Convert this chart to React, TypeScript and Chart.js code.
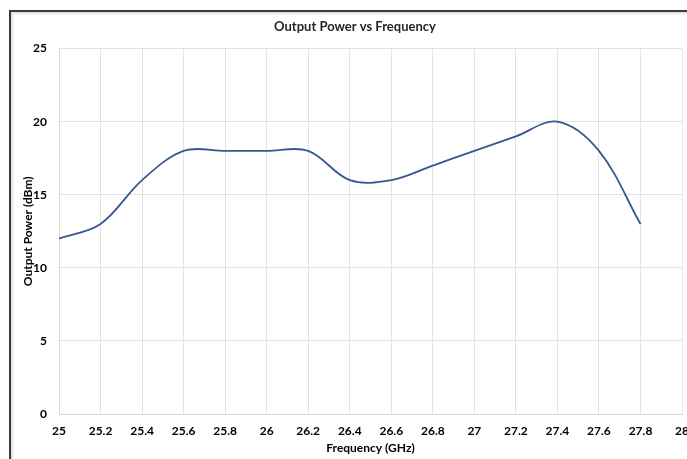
import React, { useEffect, useRef } from "react";
import { Chart, registerables } from "chart.js";

Chart.register(...registerables);

const frequencies = [25, 25.2, 25.4, 25.6, 25.8, 26, 26.2, 26.4, 26.6, 26.8, 27, 27.2, 27.4, 27.6, 27.8];
const outputPower = [12, 13, 16, 18, 18, 18, 18, 16, 16, 17, 18, 19, 20, 18, 13];
const xTicks = [25, 25.2, 25.4, 25.6, 25.8, 26, 26.2, 26.4, 26.6, 26.8, 27, 27.2, 27.4, 27.6, 27.8, 28];
const yTicks = [0, 5, 10, 15, 20, 25];

const FONT = "Lato, 'Open Sans', sans-serif";

export default function App() {
  const ref = useRef<HTMLCanvasElement | null>(null);
  useEffect(() => {
    if (!ref.current) return;
    const chart = new Chart(ref.current, {
      type: "scatter",
      data: {
        datasets: [
          {
            label: "Output Power",
            data: frequencies.map((f, i) => ({ x: f, y: outputPower[i] })),
            showLine: true,
            borderColor: "#35598f",
            backgroundColor: "#35598f",
            borderWidth: 1.8,
            pointRadius: 0,
            tension: 0.35,
          },
        ],
      },
      options: {
        animation: false,
        responsive: false,
        maintainAspectRatio: false,
        layout: { padding: { left: 0, right: 0, top: 5, bottom: 2 } },
        plugins: {
          legend: { display: false },
          tooltip: { enabled: false },
          title: {
            display: true,
            text: "Output Power vs Frequency",
            color: "#262626",
            font: { family: FONT, size: 13, weight: "bold" },
            padding: { top: 2, bottom: 14 },
          },
        },
        scales: {
          x: {
            type: "linear",
            min: 25,
            max: 28,
            afterBuildTicks: (scale: any) => {
              scale.ticks = xTicks.map((v) => ({ value: v }));
            },
            afterFit: (scale: any) => {
              scale.height = 41;
            },
            grid: { color: "#e3e3e3", drawTicks: false, lineWidth: 1 },
            border: { display: true, color: "#d9d9d9" },
            ticks: {
              color: "#000",
              padding: 10,
              maxRotation: 0,
              autoSkip: false,
              font: { family: FONT, size: 12, weight: "bold" },
              callback: (v: any) => String(Number(Number(v).toFixed(1))),
            },
            title: {
              display: true,
              text: "Frequency (GHz)",
              color: "#000",
              font: { family: FONT, size: 12, weight: "bold" },
              padding: { top: 0, bottom: 0 },
            },
          },
          y: {
            type: "linear",
            min: 0,
            max: 25,
            afterBuildTicks: (scale: any) => {
              scale.ticks = yTicks.map((v) => ({ value: v }));
            },
            afterFit: (scale: any) => {
              scale.width = 48;
            },
            grid: { color: "#e3e3e3", drawTicks: false, lineWidth: 1 },
            border: { display: true, color: "#d9d9d9" },
            ticks: {
              color: "#000",
              padding: 12,
              font: { family: FONT, size: 12, weight: "bold" },
            },
            title: {
              display: true,
              text: "Output Power (dBm)",
              color: "#000",
              font: { family: FONT, size: 12, weight: "bold" },
              padding: { top: 10, bottom: 0 },
            },
          },
        },
      },
    });
    return () => chart.destroy();
  }, []);

  return (
    <div
      style={{
        position: "fixed",
        left: 0,
        top: 0,
        width: 687,
        height: 459,
        overflow: "hidden",
        background: "#fff",
      }}
    >
      <div
        style={{
          position: "absolute",
          left: 9,
          top: 10,
          width: 720,
          height: 480,
          borderLeft: "2px solid #3c3c3c",
          borderTop: "2px solid #3c3c3c",
          boxShadow: "inset 2px 2px 2px rgba(0,0,0,0.12)",
          background: "#fff",
        }}
      >
        <canvas
          ref={ref}
          width={688}
          height={445}
          style={{ position: "absolute", left: 0, top: 0, width: 688, height: 445 }}
        />
      </div>
    </div>
  );
}
